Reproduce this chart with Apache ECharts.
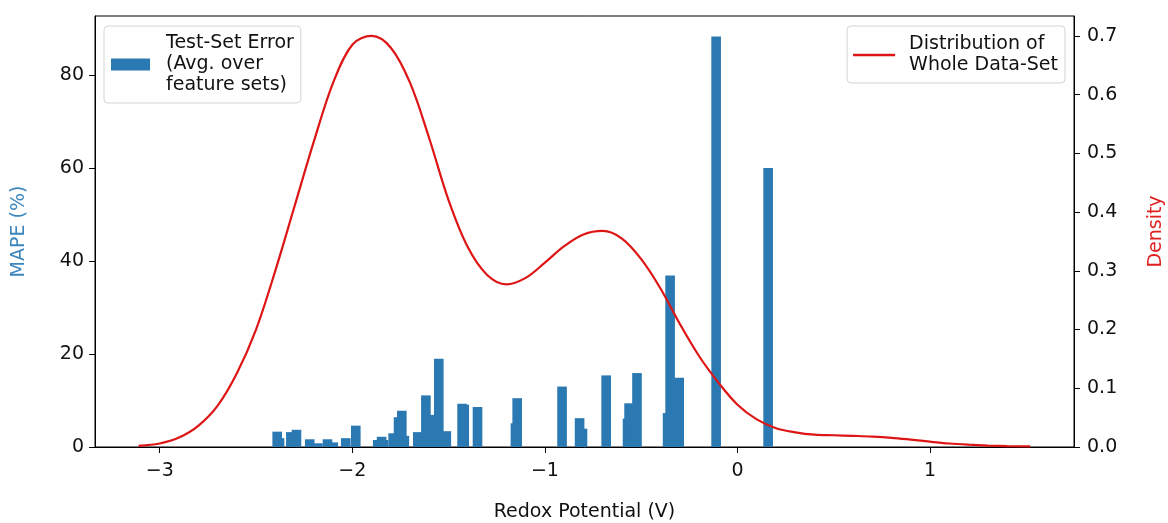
<!DOCTYPE html>
<html>
<head>
<meta charset="utf-8">
<script src="https://cdn.jsdelivr.net/npm/echarts@6/dist/echarts.min.js"></script>
<style>
  html, body { margin: 0; padding: 0; background: #ffffff; }
  #chart { width: 1168px; height: 523px; }
</style>
</head>
<body>
<div id="chart"></div>
<script>
// Test-set error per redox-potential bin (bar centre in V, MAPE in %)
const barCenters = [
  -2.390, -2.378, -2.319, -2.290, -2.221, -2.179, -2.129, -2.099, -2.034, -1.982,
  -1.868, -1.848, -1.838, -1.788, -1.760, -1.743, -1.730,
  -1.660, -1.618, -1.601, -1.551, -1.512,
  -1.430, -1.419, -1.350,
  -1.153, -1.144, -0.911, -0.820, -0.805, -0.682,
  -0.571, -0.563, -0.522, -0.363, -0.350, -0.303,
  -0.111, 0.159
];
const barMape = [
  3.3, 1.9, 3.2, 3.7, 1.66, 0.8, 1.66, 1.0, 1.9, 4.6,
  1.5, 2.2, 1.5, 2.95, 6.4, 7.8, 2.4,
  3.2, 11.1, 6.9, 19.0, 3.4,
  9.3, 9.1, 8.6,
  5.1, 10.5, 13.0, 6.2, 3.95, 15.4,
  6.1, 9.4, 15.9, 7.3, 36.9, 14.9,
  88.3, 60.0
];

// Kernel density estimate of the whole data set
const kdeX = [
  -3.11, -3.0, -2.9, -2.8, -2.7, -2.6, -2.5, -2.4, -2.3, -2.2, -2.1, -2.0, -1.9,
  -1.8, -1.7, -1.6, -1.5, -1.4, -1.3, -1.2, -1.1, -1.0, -0.9, -0.8, -0.7, -0.6,
  -0.5, -0.4, -0.3, -0.2, -0.1, 0.0, 0.1, 0.2, 0.3, 0.4, 0.5, 0.6, 0.7, 0.8,
  0.9, 1.0, 1.1, 1.2, 1.3, 1.4, 1.52
];
const kdeDensity = [
  0.002, 0.006, 0.016, 0.036, 0.07, 0.125, 0.2, 0.3, 0.41, 0.52, 0.62, 0.685, 0.7,
  0.68, 0.62, 0.525, 0.42, 0.34, 0.293, 0.277, 0.288, 0.314, 0.342, 0.362, 0.368, 0.355,
  0.32, 0.27, 0.21, 0.155, 0.11, 0.072, 0.047, 0.032, 0.025, 0.021, 0.02, 0.019, 0.0178, 0.0157,
  0.0125, 0.009, 0.006, 0.004, 0.0025, 0.0015, 0.001
];

// Tick positions
const xTicks = [-3, -2, -1, 0, 1];
const mapeTicks = [0, 20, 40, 60, 80];
const densityTicks = [0, 0.1, 0.2, 0.3, 0.4, 0.5, 0.6, 0.7];

const BAR_NAME = 'Test-Set Error\n(Avg. over\nfeature sets)';
const LINE_NAME = 'Distribution of\nWhole Data-Set';
const BAR_COLOR = '#2b79b2';
const LINE_COLOR = '#dd1515';
const BAR_WIDTH = 0.05;
const FONT = 'DejaVu Sans';
const FS = 19;

const chart = echarts.init(document.getElementById('chart'));

const minus = v => String(v).replace('-', '\u2212');

const tickStyle = { show: true, inside: false, length: 6, lineStyle: { color: '#000', width: 1 } };
const axisLineStyle = { show: true, onZero: false, lineStyle: { color: '#000', width: 1 } };
const labelStyle = { color: '#111', fontSize: FS, fontFamily: FONT };

chart.setOption({
  animation: false,
  backgroundColor: '#ffffff',
  textStyle: { fontFamily: FONT },
  grid: {
    left: 95, right: 94, top: 16, bottom: 76,
    outerBoundsMode: 'none',
    show: true, borderColor: '#000', borderWidth: 1, backgroundColor: 'transparent'
  },
  legend: [
    {
      data: [{ name: BAR_NAME, icon: 'rect', itemStyle: { color: BAR_COLOR } }],
      left: 104, top: 26,
      itemWidth: 39, itemHeight: 12,
      padding: [7, 7, 7, 7],
      borderColor: '#d4d4d4', borderWidth: 1, borderRadius: 4,
      backgroundColor: 'rgba(255,255,255,0.85)',
      textStyle: { fontSize: FS, fontFamily: FONT, color: '#111', lineHeight: 21, padding: [0, 0, 0, 11] }
    },
    {
      data: [{ name: LINE_NAME, icon: 'rect', itemStyle: { color: LINE_COLOR } }],
      right: 103, top: 26,
      itemWidth: 42, itemHeight: 2.5,
      padding: [8, 7, 7, 6],
      borderColor: '#d4d4d4', borderWidth: 1, borderRadius: 4,
      backgroundColor: 'rgba(255,255,255,0.85)',
      textStyle: { fontSize: FS, fontFamily: FONT, color: '#111', lineHeight: 21, padding: [0, 0, 0, 9] }
    }
  ],
  xAxis: {
    type: 'value',
    min: -3.336, max: 1.747,
    name: 'Redox Potential (V)',
    nameLocation: 'middle', nameGap: 56,
    nameTextStyle: { fontSize: FS, fontFamily: FONT, color: '#111' },
    axisLine: axisLineStyle,
    axisTick: Object.assign({ customValues: xTicks }, tickStyle),
    axisLabel: Object.assign({ customValues: xTicks, margin: 15, formatter: minus }, labelStyle),
    splitLine: { show: false }
  },
  yAxis: [
    {
      type: 'value',
      min: 0, max: 92.7,
      position: 'left',
      name: 'MAPE (%)',
      nameLocation: 'middle', nameGap: 66,
      nameTextStyle: { fontSize: FS, fontFamily: FONT, color: '#3d86bd' },
      axisLine: axisLineStyle,
      axisTick: Object.assign({ customValues: mapeTicks }, tickStyle),
      axisLabel: Object.assign({ customValues: mapeTicks, margin: 11 }, labelStyle),
      splitLine: { show: false }
    },
    {
      type: 'value',
      min: 0, max: 0.734,
      position: 'right',
      name: 'Density',
      nameLocation: 'middle', nameGap: 73,
      nameTextStyle: { fontSize: FS, fontFamily: FONT, color: '#e02020' },
      axisLine: axisLineStyle,
      axisTick: Object.assign({ customValues: densityTicks }, tickStyle),
      axisLabel: Object.assign({ customValues: densityTicks, margin: 13, formatter: v => v.toFixed(1) }, labelStyle),
      splitLine: { show: false }
    }
  ],
  series: [
    {
      name: BAR_NAME,
      type: 'custom',
      xAxisIndex: 0, yAxisIndex: 0,
      clip: true,
      itemStyle: { color: BAR_COLOR },
      encode: { x: 0, y: 1 },
      data: barCenters.map((c, i) => [c, barMape[i]]),
      renderItem: function (params, api) {
        const c = api.value(0);
        const h = api.value(1);
        const topLeft = api.coord([c - BAR_WIDTH / 2, h]);
        const bottomRight = api.coord([c + BAR_WIDTH / 2, 0]);
        return {
          type: 'rect',
          shape: {
            x: topLeft[0], y: topLeft[1],
            width: bottomRight[0] - topLeft[0],
            height: bottomRight[1] - topLeft[1]
          },
          style: { fill: BAR_COLOR }
        };
      },
      z: 2
    },
    {
      name: LINE_NAME,
      type: 'line',
      xAxisIndex: 0, yAxisIndex: 1,
      symbol: 'none',
      smooth: 0.35,
      lineStyle: { color: LINE_COLOR, width: 2.2 },
      itemStyle: { color: LINE_COLOR },
      data: kdeX.map((x, i) => [x, kdeDensity[i]]),
      z: 3
    }
  ]
});
</script>
</body>
</html>
